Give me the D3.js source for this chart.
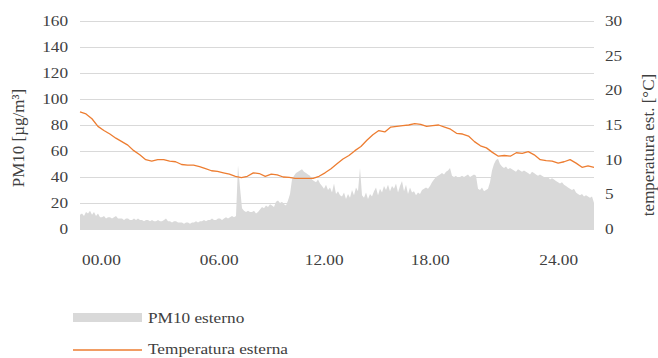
<!DOCTYPE html>
<html>
<head>
<meta charset="utf-8">
<script src="https://cdn.jsdelivr.net/npm/d3@7/dist/d3.min.js"></script>
<style>
  html, body { margin: 0; padding: 0; background: #ffffff; }
  svg { display: block; }
</style>
</head>
<body>
<div id="chart"></div>
<script>
// PM10 outdoor concentration [µg/m³], evenly sampled over the day (00.00 -> 24.00)
const pm10 = [
  11, 12, 10, 13, 12, 14,
  11, 13, 10, 12, 9,
  9, 10, 8, 9, 9, 8, 9, 10, 8, 8,
  8, 7, 8, 8, 7, 7, 8, 7, 8, 7, 7, 6, 7, 7, 6,
  7, 6, 6, 7, 6, 6, 7, 8, 6, 6, 5, 6, 6, 5, 5,
  5, 4, 5, 5, 4, 5, 5, 6, 5, 6,
  6, 7, 6, 7, 7, 8, 7, 7, 8, 8, 7, 8,
  9, 8, 9, 10, 9, 10,
  49, 32,
  16, 14, 13, 14, 13,
  13, 14, 12, 13,
  15, 17, 16,
  18, 17, 19, 18, 17,
  21, 22, 20, 21,
  19, 18, 22,
  27,
  38, 41, 43,
  44, 45, 46, 44,
  43, 42, 41,
  38, 37, 36, 38, 35,
  33, 31, 34, 30, 32,
  28, 35, 27, 29, 26,
  25, 28, 23, 27, 24,
  30, 26, 32, 29,
  47,
  26, 24, 28, 23, 27, 25,
  29, 32, 26, 31, 28, 33,
  30, 34, 29, 33,
  31, 35, 28, 33,
  37, 29, 34, 27, 32,
  28, 29, 26, 28, 27,
  30, 31, 32, 31, 33,
  36, 38, 40, 41, 42,
  43, 42, 44, 45, 47,
  41, 40, 41, 39, 40, 41, 40,
  41, 42, 40, 41, 42, 41,
  31, 30, 32, 29, 30, 31,
  36,
  45, 50, 53, 54, 50,
  48, 47, 48, 46, 47,
  46, 45, 44, 46, 45, 44, 45,
  44, 43, 42, 44, 43, 42, 41, 42,
  41, 40, 39, 40, 38, 39, 38,
  37, 36, 35, 36, 34,
  33, 32, 31, 30, 31,
  28, 27, 26, 27, 25,
  26, 25, 24, 25,
  20
];

// Outdoor temperature [°C], evenly sampled over the same day
const temperature = [
  16.9, 16.6, 15.9, 14.8, 14.2, 13.7, 13.1, 12.6, 12.1, 11.3,
  10.7, 10.0, 9.8, 10.0, 10.0, 9.8, 9.7, 9.3, 9.2, 9.2,
  9.0, 8.7, 8.4, 8.3, 8.1, 7.9, 7.6, 7.4, 7.6, 8.1,
  8.0, 7.6, 7.9, 7.8, 7.5, 7.45, 7.3, 7.3, 7.3, 7.3,
  7.6, 8.1, 8.7, 9.4, 10.1, 10.6, 11.3, 11.9, 12.8, 13.6,
  14.2, 14.0, 14.7, 14.8, 14.9, 15.0, 15.2, 15.1, 14.8, 14.9,
  15.0, 14.7, 14.4, 13.8, 13.7, 13.4, 12.6, 12.0, 11.7, 11.05,
  10.5, 10.6, 10.5, 11.0, 10.9, 11.15, 10.7, 10.0, 9.85, 9.8,
  9.5, 9.7, 10.0, 9.5, 8.9, 9.1, 8.9
];

// Axis ticks
const pmTicks = [0, 20, 40, 60, 80, 100, 120, 140, 160];
const tempTicks = [0, 5, 10, 15, 20, 25, 30];
const timeLabels = ["00.00", "06.00", "12.00", "18.00", "24.00"];
const timeLabelHours = [1.0, 6.5, 11.4, 16.35, 22.35];

const W = 658, H = 358;
const plot = { left: 80, right: 594, top: 21, bottom: 229 };
const stretch = 1.15; // glyphs are drawn slightly wide
const FONT = "'Liberation Serif', 'Times New Roman', 'DejaVu Serif', serif";
const INK = "#404040";

const svg = d3.select("#chart").append("svg")
  .attr("width", W).attr("height", H)
  .attr("font-family", FONT);

const x = d3.scaleLinear().domain([0, 24]).range([plot.left, plot.right]);
const yPm = d3.scaleLinear().domain([0, 160]).range([plot.bottom, plot.top]);
const yT = d3.scaleLinear().domain([0, 30]).range([plot.bottom, plot.top]);

const pmHour = i => i * 24 / (pm10.length - 1);
const tHour = i => i * 24 / (temperature.length - 1);

// horizontal gridlines
svg.append("g").selectAll("line").data(pmTicks).join("line")
  .attr("x1", plot.left).attr("x2", plot.right)
  .attr("y1", d => Math.round(yPm(d)) + 0.5).attr("y2", d => Math.round(yPm(d)) + 0.5)
  .attr("stroke", "#d9d9d9").attr("stroke-width", 1);

// PM10 area
svg.append("path")
  .datum(pm10)
  .attr("fill", "#d9d9d9")
  .attr("d", d3.area()
    .x((d, i) => x(pmHour(i)))
    .y0(yPm(0))
    .y1(d => yPm(d)));

// temperature line
svg.append("path")
  .datum(temperature)
  .attr("fill", "none")
  .attr("stroke", "#ed7d31")
  .attr("stroke-width", 1.3)
  .attr("stroke-linejoin", "round")
  .attr("d", d3.line()
    .x((d, i) => x(tHour(i)))
    .y(d => yT(d)));

// text helper: placed by translate, widened by a horizontal scale
function label(g, tx, ty, str, anchor, size) {
  return g.append("text")
    .attr("transform", `translate(${tx},${ty}) scale(${stretch},1)`)
    .attr("text-anchor", anchor)
    .attr("font-family", FONT)
    .attr("fill", INK)
    .attr("font-size", size)
    .text(str);
}

// left axis labels
const gl = svg.append("g");
pmTicks.forEach(v => label(gl, 68, yPm(v) + 5, String(v), "end", 15));

// right axis labels
const gr = svg.append("g");
tempTicks.forEach(v => label(gr, 605, yT(v) + 5, String(v), "start", 15));

// time labels
const gx = svg.append("g");
timeLabels.forEach((s, i) => label(gx, x(timeLabelHours[i]), 265, s, "middle", 15));

// axis titles
svg.append("text")
  .attr("transform", "translate(24,138) rotate(-90)")
  .attr("text-anchor", "middle")
  .attr("font-family", FONT)
  .attr("fill", INK)
  .attr("font-size", 17)
  .text("PM10 [µg/m³]");

svg.append("text")
  .attr("transform", "translate(654,145) rotate(-90)")
  .attr("text-anchor", "middle")
  .attr("font-family", FONT)
  .attr("fill", INK)
  .attr("font-size", 17)
  .text("temperatura est. [°C]");

// legend
const lg = svg.append("g");
lg.append("rect").attr("x", 73).attr("y", 313).attr("width", 69).attr("height", 9)
  .attr("fill", "#d9d9d9");
label(lg, 148, 323, "PM10 esterno", "start", 15);
lg.append("line").attr("x1", 73).attr("x2", 142).attr("y1", 350).attr("y2", 350)
  .attr("stroke", "#ed7d31").attr("stroke-width", 1.3);
label(lg, 148, 354, "Temperatura esterna", "start", 15);
</script>
</body>
</html>
